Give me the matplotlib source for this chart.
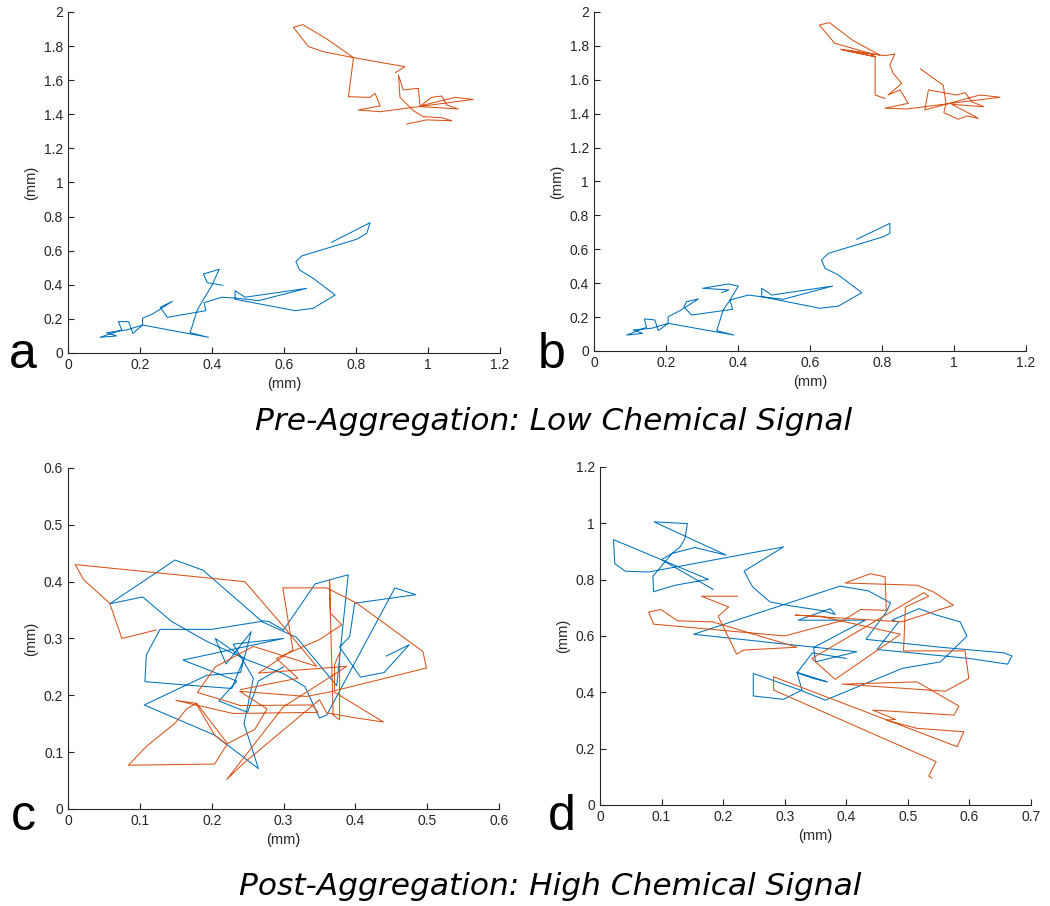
import numpy as np
import matplotlib.pyplot as plt
from matplotlib.ticker import FuncFormatter

blue = "#0072BD"
orange = "#D95319"

# panel a, blue track
a_blue_x = [0.732, 0.839, 0.830, 0.802, 0.649, 0.633, 0.643, 0.681, 0.742, 0.681, 0.631, 0.464, 0.464, 0.492,
            0.663, 0.529, 0.464, 0.427, 0.378, 0.383, 0.276, 0.256, 0.290, 0.235, 0.207, 0.207, 0.180, 0.168,
            0.140, 0.149, 0.089, 0.135, 0.107, 0.163, 0.207, 0.390, 0.339, 0.359, 0.378, 0.399, 0.420, 0.376,
            0.387, 0.430]
a_blue_y = [0.649, 0.764, 0.702, 0.667, 0.569, 0.536, 0.487, 0.438, 0.340, 0.262, 0.248, 0.315, 0.365, 0.327,
            0.379, 0.307, 0.322, 0.327, 0.295, 0.248, 0.209, 0.268, 0.303, 0.229, 0.204, 0.164, 0.115, 0.184,
            0.184, 0.135, 0.092, 0.100, 0.119, 0.135, 0.164, 0.092, 0.119, 0.252, 0.321, 0.393, 0.491, 0.463,
            0.412, 0.397]
# panel a, orange track
a_orange_x = [0.910, 0.936, 0.793, 0.720, 0.652, 0.626, 0.668, 0.709, 0.793, 0.779, 0.839, 0.853, 0.867, 0.806,
              0.867, 1.126, 1.075, 0.980, 1.010, 1.038, 1.052, 1.084, 0.978, 0.973, 0.931, 0.918, 0.922, 0.960,
              0.987, 1.038, 1.066, 0.996, 0.941]
a_orange_y = [1.645, 1.679, 1.732, 1.840, 1.926, 1.910, 1.797, 1.767, 1.732, 1.503, 1.499, 1.523, 1.449, 1.425,
              1.415, 1.487, 1.499, 1.450, 1.499, 1.507, 1.455, 1.431, 1.445, 1.552, 1.543, 1.630, 1.500, 1.420,
              1.386, 1.380, 1.362, 1.367, 1.343]

# panel b
b_blue_x = [0.730, 0.822, 0.822, 0.804, 0.651, 0.632, 0.642, 0.679, 0.744, 0.679, 0.628, 0.466, 0.466, 0.494,
            0.663, 0.526, 0.466, 0.429, 0.378, 0.385, 0.271, 0.250, 0.257, 0.290, 0.239, 0.206, 0.206, 0.179,
            0.169, 0.140, 0.146, 0.091, 0.135, 0.109, 0.160, 0.206, 0.389, 0.341, 0.359, 0.378, 0.401, 0.373,
            0.302, 0.375, 0.355]
b_blue_y = [0.659, 0.753, 0.694, 0.674, 0.576, 0.537, 0.488, 0.448, 0.344, 0.265, 0.252, 0.320, 0.370, 0.330,
            0.383, 0.305, 0.320, 0.330, 0.301, 0.246, 0.212, 0.261, 0.291, 0.307, 0.238, 0.202, 0.163, 0.120,
            0.183, 0.189, 0.140, 0.094, 0.104, 0.124, 0.134, 0.163, 0.094, 0.120, 0.242, 0.301, 0.383, 0.395,
            0.370, 0.360, 0.345]
b_orange_x = [0.907, 0.952, 0.970, 0.978, 0.972, 1.012, 1.035, 1.068, 0.994, 1.083, 1.049, 1.031, 1.007, 0.929,
              0.919, 1.072, 1.128, 0.869, 0.808, 0.873, 0.850, 0.817, 0.855, 0.831, 0.822, 0.836, 0.808, 0.685,
              0.781, 0.690, 0.794, 0.720, 0.654, 0.626, 0.669, 0.767, 0.781, 0.781, 0.808]
b_orange_y = [1.664, 1.595, 1.569, 1.461, 1.406, 1.367, 1.386, 1.373, 1.455, 1.441, 1.471, 1.524, 1.510, 1.540,
              1.422, 1.510, 1.497, 1.428, 1.432, 1.461, 1.540, 1.510, 1.579, 1.638, 1.687, 1.752, 1.742, 1.780,
              1.736, 1.776, 1.746, 1.831, 1.937, 1.923, 1.815, 1.756, 1.736, 1.510, 1.490]

# panel c
c_blue_x = [0.443, 0.475, 0.440, 0.407, 0.378, 0.392, 0.399, 0.484, 0.455, 0.360, 0.350, 0.330, 0.300, 0.250,
            0.193, 0.144, 0.104, 0.058, 0.149, 0.188, 0.269, 0.279, 0.300, 0.344, 0.390, 0.374, 0.318, 0.269,
            0.200, 0.128, 0.109, 0.107, 0.165, 0.228, 0.245, 0.205, 0.220, 0.255, 0.240, 0.193, 0.106, 0.204,
            0.265, 0.245, 0.258, 0.230, 0.300, 0.160, 0.235, 0.210, 0.250, 0.265, 0.300]
c_blue_y = [0.269, 0.289, 0.240, 0.232, 0.285, 0.303, 0.362, 0.377, 0.389, 0.165, 0.160, 0.215, 0.238, 0.262,
            0.295, 0.330, 0.373, 0.361, 0.438, 0.420, 0.331, 0.330, 0.315, 0.396, 0.412, 0.217, 0.302, 0.330,
            0.316, 0.316, 0.271, 0.224, 0.218, 0.212, 0.265, 0.300, 0.255, 0.312, 0.240, 0.235, 0.183, 0.130,
            0.071, 0.150, 0.230, 0.290, 0.300, 0.262, 0.225, 0.190, 0.170, 0.225, 0.250]
c_orange_x = [0.123, 0.075, 0.058, 0.022, 0.010, 0.246, 0.296, 0.346, 0.258, 0.205, 0.180, 0.240, 0.340, 0.348,
              0.230, 0.150, 0.178, 0.204, 0.221, 0.204, 0.084, 0.109, 0.149, 0.165, 0.179, 0.222, 0.260, 0.277,
              0.239, 0.332, 0.369, 0.439, 0.402, 0.360, 0.350, 0.244, 0.221, 0.300, 0.350, 0.388, 0.265, 0.313,
              0.299, 0.360, 0.402, 0.494, 0.499, 0.371, 0.371, 0.378, 0.378, 0.369, 0.364, 0.365, 0.381, 0.350,
              0.290, 0.320, 0.240]
c_orange_y = [0.315, 0.300, 0.362, 0.403, 0.430, 0.400, 0.327, 0.251, 0.286, 0.250, 0.205, 0.182, 0.183, 0.170,
              0.168, 0.191, 0.186, 0.130, 0.113, 0.079, 0.077, 0.110, 0.151, 0.176, 0.186, 0.115, 0.140, 0.176,
              0.207, 0.198, 0.207, 0.153, 0.160, 0.169, 0.192, 0.080, 0.052, 0.180, 0.220, 0.251, 0.239, 0.280,
              0.389, 0.389, 0.362, 0.277, 0.248, 0.208, 0.254, 0.274, 0.157, 0.165, 0.403, 0.345, 0.324, 0.298,
              0.265, 0.230, 0.210]

# panel d
d_blue_x = [0.184, 0.100, 0.117, 0.154, 0.205, 0.088, 0.142, 0.138, 0.130, 0.117, 0.086, 0.087, 0.122, 0.176,
            0.022, 0.024, 0.041, 0.079, 0.298, 0.234, 0.248, 0.276, 0.304, 0.358, 0.382, 0.374, 0.322, 0.431,
            0.347, 0.350, 0.417, 0.152, 0.390, 0.436, 0.472, 0.465, 0.432, 0.553, 0.656, 0.669, 0.662, 0.600,
            0.450, 0.485, 0.474, 0.518, 0.547, 0.585, 0.596, 0.553, 0.491, 0.366, 0.325, 0.249, 0.249, 0.298,
            0.328, 0.320, 0.369, 0.347, 0.320, 0.345, 0.400]
d_blue_y = [0.765, 0.871, 0.893, 0.914, 0.887, 1.005, 0.999, 0.945, 0.916, 0.893, 0.812, 0.757, 0.780, 0.801,
            0.942, 0.857, 0.830, 0.827, 0.916, 0.830, 0.774, 0.721, 0.709, 0.691, 0.677, 0.697, 0.656, 0.656,
            0.559, 0.508, 0.544, 0.606, 0.777, 0.760, 0.717, 0.685, 0.588, 0.560, 0.540, 0.529, 0.500, 0.520,
            0.552, 0.650, 0.656, 0.697, 0.674, 0.650, 0.599, 0.508, 0.485, 0.372, 0.408, 0.467, 0.387, 0.375,
            0.408, 0.471, 0.437, 0.449, 0.469, 0.540, 0.520]
d_orange_x = [0.223, 0.165, 0.209, 0.192, 0.222, 0.233, 0.320, 0.183, 0.126, 0.099, 0.079, 0.087, 0.300, 0.396,
              0.423, 0.465, 0.463, 0.439, 0.398, 0.515, 0.542, 0.574, 0.490, 0.317, 0.358, 0.488, 0.382, 0.344,
              0.526, 0.534, 0.496, 0.493, 0.593, 0.599, 0.561, 0.393, 0.515, 0.583, 0.575, 0.443, 0.480, 0.465,
              0.515, 0.591, 0.580, 0.282, 0.282, 0.546, 0.534, 0.539]
d_orange_y = [0.741, 0.741, 0.703, 0.670, 0.535, 0.550, 0.560, 0.650, 0.654, 0.694, 0.685, 0.642, 0.600, 0.656,
              0.694, 0.691, 0.810, 0.821, 0.788, 0.780, 0.756, 0.709, 0.650, 0.674, 0.670, 0.606, 0.446, 0.520,
              0.754, 0.741, 0.703, 0.547, 0.547, 0.449, 0.404, 0.429, 0.437, 0.351, 0.319, 0.337, 0.304, 0.301,
              0.272, 0.260, 0.207, 0.455, 0.408, 0.154, 0.103, 0.095]

panels = [
    ("a", [0.0648, 0.6104, 0.4114, 0.3764], a_blue_x, a_blue_y, a_orange_x, a_orange_y, 1.2, 0.2, 2.0, 0.2),
    ("b", [0.5657, 0.6126, 0.4114, 0.3742], b_blue_x, b_blue_y, b_orange_x, b_orange_y, 1.2, 0.2, 2.0, 0.2),
    ("c", [0.0648, 0.1071, 0.4105, 0.3764], c_blue_x, c_blue_y, c_orange_x, c_orange_y, 0.6, 0.1, 0.6, 0.1),
    ("d", [0.5714, 0.1115, 0.4105, 0.3731], d_blue_x, d_blue_y, d_orange_x, d_orange_y, 0.7, 0.1, 1.2, 0.2),
]
label_pos = {"a": (0.008, 0.594), "b": (0.512, 0.594), "c": (0.010, 0.084), "d": (0.522, 0.084)}

fmt = FuncFormatter(lambda v, p: f"{v:g}")

fig = plt.figure(figsize=(10.5, 9.06), dpi=100)

for name, rect, bx, by, ox, oy, xmax, xstep, ymax, ystep in panels:
    ax = fig.add_axes(rect)
    ax.plot(bx, by, color=blue, lw=0.75)
    ax.plot(ox, oy, color=orange, lw=0.75)
    ax.set_xlim(0, xmax)
    ax.set_ylim(0, ymax)
    ax.set_xticks(np.arange(0, xmax + xstep/2, xstep))
    ax.set_yticks(np.arange(0, ymax + ystep/2, ystep))
    ax.xaxis.set_major_formatter(fmt)
    ax.yaxis.set_major_formatter(fmt)
    ax.spines["top"].set_visible(False)
    ax.spines["right"].set_visible(False)
    for s in ("left", "bottom"):
        ax.spines[s].set_color("#262626")
        ax.spines[s].set_linewidth(0.8)
    ax.tick_params(direction="in", length=4, width=0.8, colors="#262626",
                   labelsize=10, labelcolor="#262626")
    for t in ax.get_xticklabels() + ax.get_yticklabels():
        t.set_family("Liberation Sans")
    ax.set_xlabel("(mm)", family="Liberation Sans", fontsize=10.5, color="#262626", labelpad=4)
    ax.set_ylabel("(mm)", family="Liberation Sans", fontsize=10.5, color="#262626", labelpad=4)
    lx, ly = label_pos[name]
    fig.text(lx, ly, name, family="Liberation Sans", fontsize=36, color="black")

fig.text(0.527, 0.535, "Pre-Aggregation: Low Chemical Signal", ha="center", va="center",
         fontsize=22.5, style="italic", family="DejaVu Sans")
fig.text(0.524, 0.022, "Post-Aggregation: High Chemical Signal", ha="center", va="center",
         fontsize=22.5, style="italic", family="DejaVu Sans")

fig.savefig("out.png", dpi=100)
